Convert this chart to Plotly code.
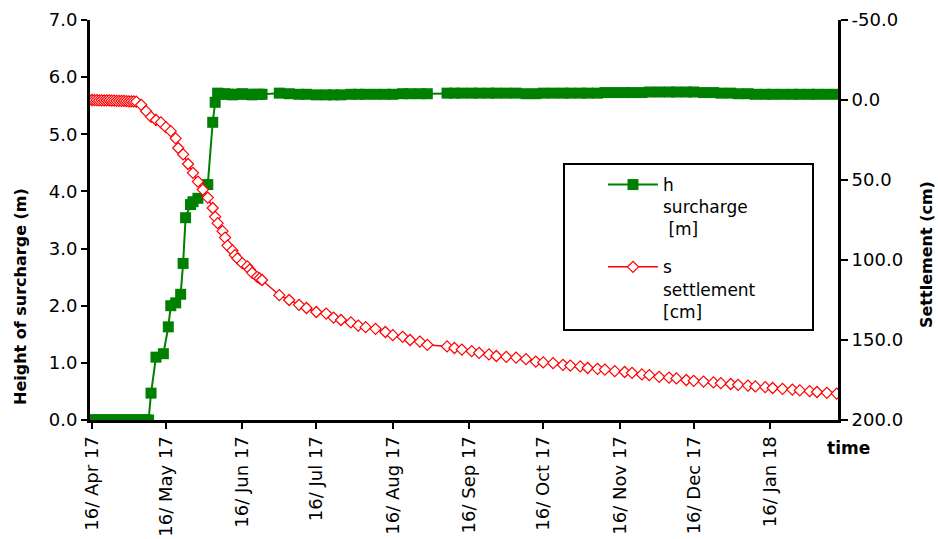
import plotly.graph_objects as go

# --- surcharge height h [m], early filling stage ---
h_dates_early = [
    "2017-04-15", "2017-04-16", "2017-04-17", "2017-04-18", "2017-04-19",
    "2017-04-20", "2017-04-21", "2017-04-22", "2017-04-23", "2017-04-24",
    "2017-04-25", "2017-04-26", "2017-04-27", "2017-04-28", "2017-04-29",
    "2017-04-30", "2017-05-01", "2017-05-02", "2017-05-03", "2017-05-04",
    "2017-05-05", "2017-05-06", "2017-05-07", "2017-05-08", "2017-05-09",
    "2017-05-10", "2017-05-12", "2017-05-15", "2017-05-17", "2017-05-18",
    "2017-05-20", "2017-05-22", "2017-05-23", "2017-05-24", "2017-05-26",
    "2017-05-27", "2017-05-29", "2017-06-02", "2017-06-04", "2017-06-05",
]
h_early = [
    0.0, 0.0, 0.0, 0.0, 0.0, 0.0, 0.0, 0.0, 0.0, 0.0,
    0.0, 0.0, 0.0, 0.0, 0.0, 0.0, 0.0, 0.0, 0.0, 0.0,
    0.0, 0.0, 0.0, 0.0, 0.0,
    0.47, 1.10, 1.16, 1.63, 2.00, 2.05, 2.20, 2.74, 3.54, 3.77,
    3.82, 3.88, 4.12, 5.21, 5.56,
]

# --- settlement s [cm], early stage ---
s_dates_early = [
    "2017-04-15", "2017-04-16", "2017-04-17", "2017-04-18", "2017-04-19",
    "2017-04-20", "2017-04-21", "2017-04-22", "2017-04-23", "2017-04-24",
    "2017-04-25", "2017-04-26", "2017-04-27", "2017-04-28", "2017-04-29",
    "2017-04-30", "2017-05-01", "2017-05-02", "2017-05-03", "2017-05-04",
    "2017-05-06", "2017-05-08", "2017-05-10", "2017-05-12", "2017-05-14",
    "2017-05-16", "2017-05-18", "2017-05-20", "2017-05-21", "2017-05-23",
    "2017-05-25", "2017-05-27", "2017-05-29", "2017-05-31", "2017-06-02",
    "2017-06-04", "2017-06-05",
]
s_early = [
    0.0, 0.0, 0.1, 0.1, 0.2, 0.2, 0.3, 0.3, 0.3, 0.4,
    0.4, 0.5, 0.5, 0.6, 0.6, 0.7, 0.8, 0.8, 0.9, 1.0,
    3.0, 7.0, 10.5, 12.5, 14.0, 17.0, 19.5, 24.0, 30.0, 34.0,
    40.0, 45.5, 51.0, 56.0, 61.0, 67.5, 73.0,
]

# --- common monitoring dates once the surcharge is in place ---
late_dates = [
    "2017-06-06", "2017-06-08", "2017-06-09", "2017-06-10", "2017-06-12",
    "2017-06-13", "2017-06-14", "2017-06-16", "2017-06-18", "2017-06-19",
    "2017-06-20", "2017-06-22", "2017-06-23", "2017-06-24",
    "2017-07-01", "2017-07-05", "2017-07-09", "2017-07-12", "2017-07-16",
    "2017-07-20", "2017-07-23", "2017-07-26", "2017-07-30",
    "2017-08-02", "2017-08-05", "2017-08-09", "2017-08-13", "2017-08-16",
    "2017-08-20", "2017-08-23", "2017-08-27", "2017-08-30",
    "2017-09-07", "2017-09-10", "2017-09-13", "2017-09-17", "2017-09-20",
    "2017-09-24", "2017-09-27",
    "2017-10-01", "2017-10-05", "2017-10-09", "2017-10-13", "2017-10-16",
    "2017-10-20", "2017-10-24", "2017-10-27", "2017-10-31",
    "2017-11-03", "2017-11-07", "2017-11-10", "2017-11-14", "2017-11-18",
    "2017-11-21", "2017-11-25", "2017-11-28",
    "2017-12-02", "2017-12-06", "2017-12-09", "2017-12-13", "2017-12-16",
    "2017-12-20", "2017-12-24", "2017-12-27", "2017-12-31",
    "2018-01-03", "2018-01-07", "2018-01-10", "2018-01-14", "2018-01-17",
    "2018-01-21", "2018-01-25", "2018-01-28",
    "2018-02-01", "2018-02-04", "2018-02-08", "2018-02-12",
]
h_late = [
    5.72, 5.70, 5.71, 5.70, 5.69, 5.70, 5.70, 5.71, 5.70, 5.70, 5.69, 5.70, 5.70, 5.70,
    5.72, 5.71, 5.70, 5.70, 5.69, 5.69, 5.69, 5.69, 5.70,
    5.70, 5.70, 5.70, 5.70, 5.70, 5.71, 5.71, 5.71, 5.71,
    5.72, 5.72, 5.72, 5.72, 5.72, 5.72, 5.72,
    5.72, 5.72, 5.71, 5.71, 5.72, 5.72, 5.72, 5.72, 5.72,
    5.72, 5.72, 5.73, 5.73, 5.73, 5.73, 5.73, 5.74,
    5.74, 5.74, 5.74, 5.74, 5.74, 5.73, 5.73, 5.72, 5.72,
    5.71, 5.71, 5.70, 5.70, 5.70, 5.70, 5.70, 5.70,
    5.70, 5.70, 5.70, 5.70,
]
s_late = [
    77.0, 82.0, 86.0, 91.0, 94.0, 97.0, 99.0, 102.0, 104.0, 106.0, 108.0, 110.5, 111.5, 112.5,
    122.0, 125.0, 128.0, 130.0, 132.5, 133.5, 136.0, 137.5, 139.0,
    141.0, 142.0, 143.0, 145.0, 147.0, 148.0, 150.0, 151.0, 153.0,
    154.0, 155.0, 156.0, 157.0, 158.0, 159.0, 160.0,
    160.5, 161.0, 162.0, 163.5, 164.0, 164.5, 165.5, 166.0, 166.5,
    167.5, 168.0, 168.5, 169.5, 170.0, 170.5, 171.5, 172.0,
    173.0, 173.5, 174.0, 175.0, 175.5, 176.0, 176.5, 177.0, 177.5,
    178.0, 178.5, 179.0, 179.5, 180.0, 180.5, 181.0, 181.5,
    182.0, 182.5, 183.0, 183.5,
]

# settlement axis ticks (plain hyphen for the negative label)
s_tickvals = [-50, 0, 50, 100, 150, 200]
s_ticktext = ["-50.0", "0.0", "50.0", "100.0", "150.0", "200.0"]

h_dates = h_dates_early + late_dates
h_values = h_early + h_late
s_dates = s_dates_early + late_dates
s_values = s_early + s_late

FONT = "DejaVu Sans"
GREEN = "#008000"
RED = "#FF0000"

# plot area in pixels: x 90..838, y 20..420
L, R, T, B = 90, 838, 20, 420


def px(x):
    return (x - L) / (R - L)


def py(y):
    return (B - y) / (B - T)


fig = go.Figure()

fig.add_trace(go.Scatter(
    x=h_dates, y=h_values, name="h<br>surcharge<br>\u00a0[m]",
    mode="lines+markers", yaxis="y", legendgroup="h",
    line=dict(color=GREEN, width=2),
    marker=dict(symbol="square", size=11, color=GREEN, line=dict(width=0)),
))
fig.add_trace(go.Scatter(
    x=s_dates, y=s_values, name="s<br>settlement<br>[cm]",
    mode="lines+markers", yaxis="y2", legendgroup="s",
    line=dict(color=RED, width=1.5),
    marker=dict(symbol="diamond", size=8.5, color="white",
                line=dict(color=RED, width=1.2)),
))

axis_line = dict(showline=True, linecolor="black", linewidth=3,
                 showgrid=False, zeroline=False, ticks="outside",
                 tickcolor="black", tickwidth=2, automargin=False,
                 tickfont=dict(size=18))

fig.update_layout(
    width=938, height=539,
    margin=dict(l=L, r=938 - R, t=T, b=539 - B),
    paper_bgcolor="white", plot_bgcolor="white",
    font=dict(family=FONT, size=17, color="black"),
    showlegend=True,
    xaxis=dict(
        **axis_line, ticklen=6,
        range=["2017-04-15 06:00", "2018-02-12 12:00"],
        tick0="2017-04-16", dtick="M1", tickformat="%d/ %b %y",
        tickangle=-90,
    ),
    yaxis=dict(
        **axis_line, ticklen=6,
        range=[0, 7], dtick=1, tickformat=".1f",
    ),
    yaxis2=dict(
        **axis_line, ticklen=7,
        overlaying="y", side="right",
        range=[200, -50], tickvals=s_tickvals, ticktext=s_ticktext,
    ),
    legend=dict(
        x=px(603), y=py(167), xanchor="left", yanchor="top",
        bgcolor="rgba(0,0,0,0)", borderwidth=0, valign="top",
        font=dict(size=17), itemwidth=50, tracegroupgap=13,
        traceorder="grouped",
    ),
    shapes=[dict(
        type="rect", xref="paper", yref="paper",
        x0=px(564), x1=px(813), y0=py(330), y1=py(164),
        line=dict(color="black", width=2), fillcolor="rgba(0,0,0,0)",
    )],
    annotations=[
        dict(text="<b>time</b>", xref="paper", yref="paper",
             x=px(825), y=py(448), xanchor="left", yanchor="middle",
             showarrow=False, font=dict(size=17)),
        dict(text="<b>Height of surcharge (m)</b>", xref="paper", yref="paper",
             x=px(20), y=py(297), xanchor="center", yanchor="middle",
             textangle=-90, showarrow=False, font=dict(size=16)),
        dict(text="<b>Settlement (cm)</b>", xref="paper", yref="paper",
             x=px(926), y=py(255), xanchor="center", yanchor="middle",
             textangle=-90, showarrow=False, font=dict(size=16)),
    ],
)

fig.write_html("out.html")
